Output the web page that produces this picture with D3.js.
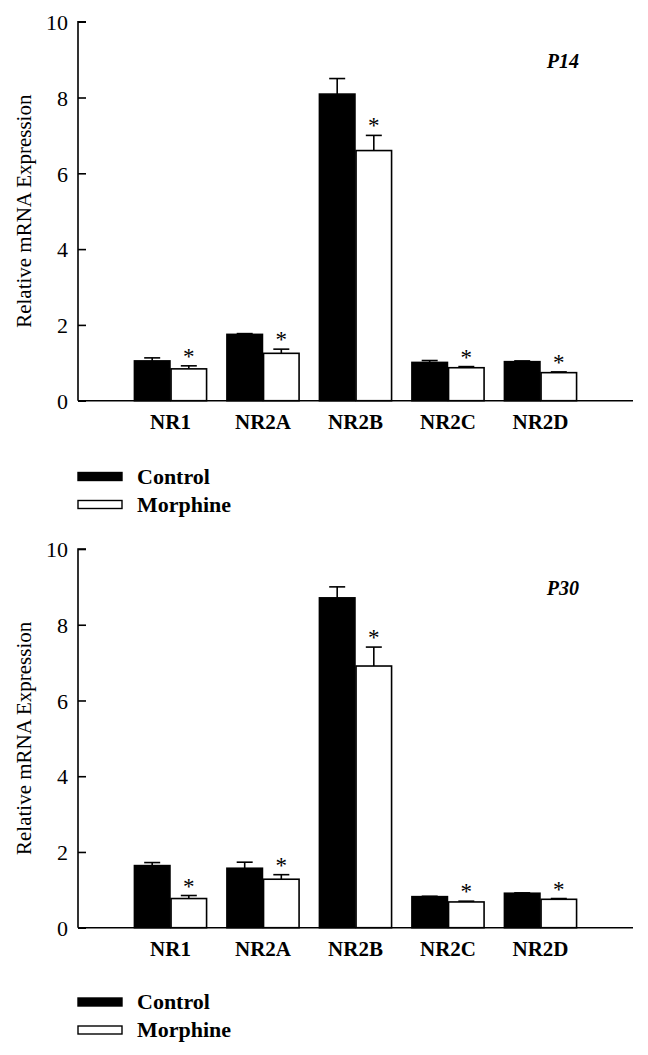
<!DOCTYPE html>
<html>
<head>
<meta charset="utf-8">
<script src="https://cdn.jsdelivr.net/npm/d3@7"></script>
<style>
  html, body { margin: 0; padding: 0; background: #fff; }
  svg { display: block; }
  svg text { font-family: "Liberation Serif", "Times New Roman", Times, serif !important; fill: #000; }
</style>
</head>
<body>
<svg id="chart" width="648" height="1055"></svg>
<script>
const categories = ["NR1", "NR2A", "NR2B", "NR2C", "NR2D"];
const seriesNames = ["Control", "Morphine"];
const yTicks = [0, 2, 4, 6, 8, 10];

// P14
const p14Control = [1.05, 1.75, 8.09, 1.01, 1.03];
const p14ControlErr = [0.08, 0.02, 0.41, 0.05, 0.02];
const p14Morphine = [0.84, 1.25, 6.60, 0.87, 0.74];
const p14MorphineErr = [0.08, 0.11, 0.40, 0.03, 0.02];
const p14Sig = [true, true, true, true, true];

// P30
const p30Control = [1.64, 1.57, 8.71, 0.82, 0.91];
const p30ControlErr = [0.08, 0.16, 0.29, 0.01, 0.01];
const p30Morphine = [0.77, 1.28, 6.91, 0.68, 0.75];
const p30MorphineErr = [0.08, 0.12, 0.50, 0.02, 0.02];
const p30Sig = [true, true, true, true, true];

const FONT = "Liberation Serif";
const svg = d3.select("#chart");
const axisLeft = 78, axisRight = 633;
const slot = (axisRight - axisLeft) / 6;

const x = d3.scaleBand().domain(categories)
  .range([axisLeft + slot / 2, axisRight - slot / 2])
  .paddingInner(0.22).paddingOuter(0.11);
const xSub = d3.scaleBand().domain(seriesNames).range([0, x.bandwidth()]).paddingInner(0.03);

function panel(cfg) {
  const y = d3.scaleLinear().domain([0, 10]).range([cfg.y0, cfg.y10]);
  const g = svg.append("g");

  const rows = categories.map((c, i) => ({
    cat: c,
    vals: [
      { s: "Control", v: cfg.control[i], e: cfg.controlErr[i] },
      { s: "Morphine", v: cfg.morphine[i], e: cfg.morphineErr[i], sig: cfg.sig[i] }
    ]
  }));

  const grp = g.selectAll("g.grp").data(rows).join("g")
    .attr("transform", d => `translate(${x(d.cat)},0)`);

  grp.selectAll("g.err").data(d => d.vals).join("g").each(function(d) {
    const cx = xSub(d.s) + xSub.bandwidth() / 2;
    const sel = d3.select(this);
    sel.append("line").attr("x1", cx).attr("x2", cx)
      .attr("y1", y(d.v)).attr("y2", y(d.v + d.e))
      .attr("stroke", "#000").attr("stroke-width", 1.6);
    sel.append("line").attr("x1", cx - 8).attr("x2", cx + 8)
      .attr("y1", y(d.v + d.e)).attr("y2", y(d.v + d.e))
      .attr("stroke", "#000").attr("stroke-width", 1.6);
    if (d.sig) {
      sel.append("text").attr("x", cx).attr("y", y(d.v + d.e) - 2)
        .attr("text-anchor", "middle").style("font-size", "23px").text("*");
    }
  });

  grp.selectAll("rect").data(d => d.vals).join("rect")
    .attr("x", d => xSub(d.s))
    .attr("width", xSub.bandwidth())
    .attr("y", d => y(d.v))
    .attr("height", d => y(0) - y(d.v))
    .attr("fill", d => d.s === "Control" ? "#000" : "#fff")
    .attr("stroke", "#000").attr("stroke-width", 1.6);

  const ya = g.append("g").attr("transform", `translate(${axisLeft},0)`)
    .call(d3.axisLeft(y).tickValues(yTicks).tickSize(-8).tickPadding(10).tickFormat(d3.format("d")));
  ya.attr("font-family", FONT).attr("font-size", 22);
  ya.select(".domain").attr("stroke-width", 1.6).attr("d", `M8,${cfg.y10}H0V${cfg.y0}`);
  ya.selectAll(".tick line").attr("stroke-width", 1.6);
  ya.selectAll(".tick text").style("font-size", "22px").attr("dy", "0.35em");

  const xa = g.append("g").attr("transform", `translate(0,${cfg.y0})`)
    .call(d3.axisBottom(x).tickSize(0).tickPadding(13));
  xa.attr("font-family", FONT).attr("font-size", 21);
  xa.select(".domain").attr("stroke-width", 1.6).attr("d", `M${axisLeft},0H${axisRight}`);
  xa.selectAll(".tick text").style("font-size", "21px").style("font-weight", "bold").attr("dy", "0.71em");

  g.append("text")
    .attr("transform", `translate(31,${(cfg.y0 + cfg.y10) / 2}) rotate(-90)`)
    .attr("text-anchor", "middle").style("font-size", "21px")
    .text("Relative mRNA Expression");

  g.append("text").attr("x", 579).attr("y", cfg.y10 + 46)
    .attr("text-anchor", "end").style("font-size", "20px")
    .style("font-weight", "bold").style("font-style", "italic").text(cfg.label);

  const lg = g.append("g");
  seriesNames.forEach((s, i) => {
    const ly = cfg.legendY + i * 28;
    lg.append("rect").attr("x", 78).attr("y", ly - 4).attr("width", 44).attr("height", 8)
      .attr("fill", s === "Control" ? "#000" : "#fff")
      .attr("stroke", "#000").attr("stroke-width", 1.4);
    lg.append("text").attr("x", 137).attr("y", ly + 7)
      .style("font-size", "22px").style("font-weight", "bold").text(s);
  });
}

panel({ y0: 400.7, y10: 21.7, control: p14Control, controlErr: p14ControlErr,
  morphine: p14Morphine, morphineErr: p14MorphineErr, sig: p14Sig, label: "P14", legendY: 476.5 });
panel({ y0: 927.7, y10: 549, control: p30Control, controlErr: p30ControlErr,
  morphine: p30Morphine, morphineErr: p30MorphineErr, sig: p30Sig, label: "P30", legendY: 1002 });
</script>
</body>
</html>
